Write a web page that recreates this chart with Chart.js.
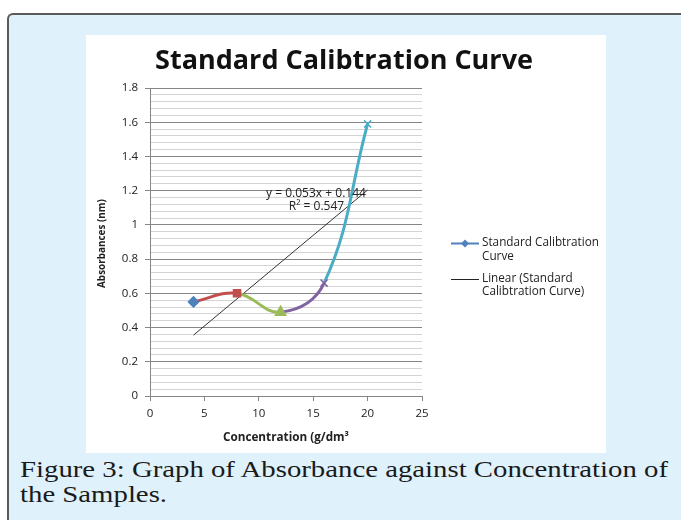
<!DOCTYPE html>
<html>
<head>
<meta charset="utf-8">
<script src="https://cdn.jsdelivr.net/npm/chart.js@4/dist/chart.umd.min.js"></script>
<style>
  html, body { margin: 0; padding: 0; background: #ffffff; width: 681px; height: 520px; overflow: hidden; }
  .frame {
    position: absolute; left: 7px; top: 13px; width: 720px; height: 560px;
    border: 2px solid #5a5a5a; border-right: none; border-bottom: none;
    border-radius: 6px 0 0 0; background: #dff1fb; box-sizing: border-box;
  }
  .plotbox { position: absolute; left: 86px; top: 35px; width: 520px; height: 418px; background: #ffffff; }
  .cap {
    position: absolute; left: 20px; font-family: "Liberation Serif", serif;
    font-size: 23px; line-height: 25px; color: #1a1a1a; white-space: nowrap;
    transform-origin: 0 0;
  }
  .cap1 { top: 457px; }
  .cap2 { top: 482px; }
</style>
</head>
<body>
<div class="frame"></div>
<div class="plotbox"><canvas id="c" width="520" height="418"></canvas></div>
<div class="cap cap1" id="cap1">Figure 3: Graph of Absorbance against Concentration of</div>
<div class="cap cap2" id="cap2">the Samples.</div>
<script>
// ---- data ----
const concentration = [4, 8, 12, 16, 20];
const absorbance = [0.55, 0.60, 0.49, 0.66, 1.59];
const trendX = [4, 20];
const trendY = [0.356, 1.204];
const xTickValues = [0, 5, 10, 15, 20, 25];
const chartTitle = 'Standard Calibtration Curve';
const xTitle = 'Concentration (g/dm³';
const yTitle = 'Absorbances (nm)';
const seriesLegend = ['Standard Calibtration', 'Curve'];
const trendLegend = ['Linear (Standard', 'Calibtration Curve)'];
const equationLines = ['y = 0.053x + 0.144', 'R² = 0.547'];

// ---- caption: stretch horizontally to the reference line width ----
(function () {
  const c1 = document.getElementById('cap1');
  const c2 = document.getElementById('cap2');
  const w = c1.getBoundingClientRect().width;
  const k = 648 / w;
  c1.style.transform = 'scaleX(' + k + ')';
  c2.style.transform = 'scaleX(' + k + ')';
})();

// ---- styles ----
const pointColors = ['#4F81BD', '#C0504D', '#9BBB59', '#8064A2', '#4BACC6'];
const segColors = ['#C0504D', '#9BBB59', '#8064A2', '#4BACC6'];
const pointStyles = ['rectRot', 'rect', 'triangle', 'crossRot', 'crossRot'];
const pointRadii = [5, 5, 6, 5, 5];
const axisGray = '#868686';
const minorGray = '#d4d4d4';
const textColor = '#222222';
const FAM = '"Open Sans", sans-serif';

const seriesPoints = concentration.map((x, i) => ({ x: x, y: absorbance[i] }));
const trendPoints = trendX.map((x, i) => ({ x: x, y: trendY[i] }));

function isMajor(v) { return Math.abs(v / 0.2 - Math.round(v / 0.2)) < 1e-6; }

function fitFont(ctx, text, weight, width) {
  let size = 20;
  ctx.font = weight + ' ' + size + 'px ' + FAM;
  const w = ctx.measureText(text).width;
  size = size * width / w;
  return weight + ' ' + size.toFixed(2) + 'px ' + FAM;
}

const decor = {
  id: 'decor',
  afterDraw(chart) {
    const ctx = chart.ctx;
    ctx.save();
    ctx.textAlign = 'center';
    ctx.textBaseline = 'alphabetic';
    // title
    ctx.font = fitFont(ctx, chartTitle, 'bold', 378);
    ctx.fillStyle = '#111';
    ctx.fillText(chartTitle, 258, 34);
    // x title
    ctx.textBaseline = 'middle';
    ctx.font = fitFont(ctx, xTitle, 'bold', 126);
    ctx.fillStyle = '#222';
    ctx.fillText(xTitle, 200, 403);
    // y title
    ctx.save();
    ctx.translate(16, 208.5);
    ctx.rotate(-Math.PI / 2);
    ctx.font = fitFont(ctx, yTitle, 'bold', 89);
    ctx.fillText(yTitle, 0, 0);
    ctx.restore();
    // equation
    ctx.fillStyle = textColor;
    ctx.font = fitFont(ctx, equationLines[0], 'normal', 100);
    ctx.fillText(equationLines[0], 230, 159);
    ctx.fillText(equationLines[1], 230.5, 171.5);
    // legend
    ctx.font = fitFont(ctx, seriesLegend[0], 'normal', 117);
    ctx.textAlign = 'left';
    ctx.strokeStyle = '#4F81BD';
    ctx.lineWidth = 2;
    ctx.beginPath(); ctx.moveTo(365, 208.5); ctx.lineTo(393, 208.5); ctx.stroke();
    ctx.fillStyle = '#4F81BD';
    ctx.beginPath();
    ctx.moveTo(379, 204.5); ctx.lineTo(383, 208.5); ctx.lineTo(379, 212.5); ctx.lineTo(375, 208.5);
    ctx.closePath(); ctx.fill();
    ctx.fillStyle = '#222';
    ctx.fillText(seriesLegend[0], 396, 208);
    ctx.fillText(seriesLegend[1], 396, 221.5);
    ctx.strokeStyle = '#222';
    ctx.lineWidth = 1;
    ctx.beginPath(); ctx.moveTo(365, 244.5); ctx.lineTo(393, 244.5); ctx.stroke();
    ctx.fillText(trendLegend[0], 396, 244);
    ctx.fillText(trendLegend[1], 396, 256.5);
    ctx.restore();
  }
};

new Chart(document.getElementById('c'), {
  type: 'line',
  data: {
    datasets: [
      {
        label: seriesLegend.join(' '),
        data: seriesPoints,
        borderWidth: 3,
        tension: 0.4,
        fill: false,
        borderColor: '#4F81BD',
        segment: { borderColor: ctx => segColors[ctx.p0DataIndex] },
        pointStyle: pointStyles,
        pointRadius: pointRadii,
        pointBackgroundColor: pointColors,
        pointBorderColor: pointColors,
        pointBorderWidth: 1.5
      },
      {
        label: trendLegend.join(' '),
        data: trendPoints,
        borderColor: '#333333',
        borderWidth: 1,
        pointRadius: 0,
        tension: 0,
        fill: false
      }
    ]
  },
  options: {
    responsive: false,
    animation: false,
    devicePixelRatio: 1,
    layout: { padding: { left: 0, top: 53, right: 184, bottom: 0 } },
    plugins: { legend: { display: false }, tooltip: { enabled: false }, title: { display: false } },
    scales: {
      x: {
        type: 'linear', min: 0, max: 25,
        afterBuildTicks: s => { s.ticks = xTickValues.map(v => ({ value: v })); },
        afterFit: s => { s.height = 57; },
        ticks: { autoSkip: false, maxRotation: 0, padding: 6, color: textColor, font: { family: FAM, size: 11.5 } },
        grid: { drawOnChartArea: false, drawTicks: true, tickLength: 5, color: axisGray },
        border: { color: axisGray, width: 1 }
      },
      y: {
        type: 'linear', min: 0, max: 1.8,
        ticks: {
          stepSize: 0.04, autoSkip: false, padding: 7, color: textColor, font: { family: FAM, size: 11.5 },
          callback: v => isMajor(v) ? String(Math.round(v * 10) / 10) : ''
        },
        afterFit: s => { s.width = 64; },
        grid: {
          drawTicks: true, tickLength: 5,
          color: c => (c.tick && isMajor(c.tick.value)) ? axisGray : minorGray,
          tickColor: c => (c.tick && isMajor(c.tick.value)) ? axisGray : 'rgba(0,0,0,0)'
        },
        border: { color: axisGray, width: 1 }
      }
    }
  },
  plugins: [decor]
});
</script>
</body>
</html>
